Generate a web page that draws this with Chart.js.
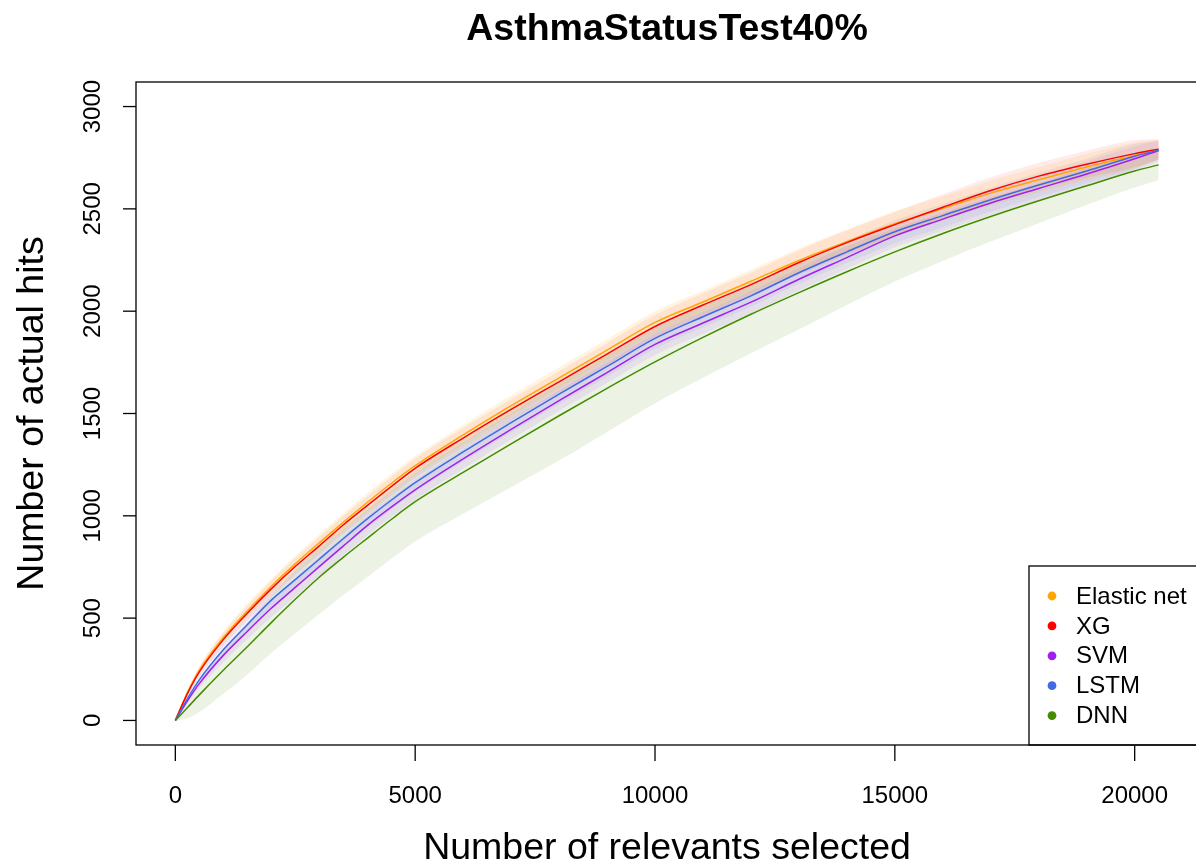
<!DOCTYPE html>
<html>
<head>
<meta charset="utf-8">
<title>AsthmaStatusTest40%</title>
<script src="https://cdn.jsdelivr.net/npm/chart.js@4"></script>
<style>
  html, body { margin: 0; padding: 0; background: #fff; overflow: hidden; }
  #wrap { width: 1196px; height: 868px; overflow: hidden; }
</style>
</head>
<body>
<div id="wrap"><canvas id="chart" width="1200" height="868"></canvas></div>
<script>
// ====== data ======
const selected = [0, 250, 500, 1000, 1500, 2000, 2500, 3000, 3500, 4000, 4500, 5000, 6000, 7000, 8000, 9000, 10000,
  11000, 12000, 13000, 14000, 15000, 16000, 17000, 18000, 19000, 20000, 20500];

const elasticMean = [0, 135, 245, 405, 535, 655, 765, 868, 968, 1065, 1158, 1245, 1395, 1538, 1674, 1810, 1945, 2045, 2146, 2248, 2340, 2428, 2502, 2577, 2642, 2705, 2761, 2790];
const elasticHigh = [0, 150, 267, 435, 570, 693, 805, 910, 1013, 1110, 1205, 1292, 1444, 1588, 1726, 1863, 2000, 2101, 2203, 2306, 2399, 2488, 2563, 2639, 2705, 2769, 2826, 2838];
const elasticLow  = [0, 120, 225, 378, 502, 619, 727, 828, 925, 1022, 1112, 1200, 1348, 1490, 1624, 1759, 1892, 1990, 2090, 2191, 2282, 2370, 2442, 2516, 2580, 2642, 2697, 2742];

const xgMean = [0, 130, 237, 395, 524, 643, 752, 853, 955, 1050, 1143, 1232, 1380, 1520, 1655, 1790, 1925, 2030, 2130, 2238, 2335, 2423, 2508, 2590, 2660, 2718, 2770, 2792];
const xgHigh = [0, 145, 260, 428, 561, 683, 794, 897, 1000, 1096, 1190, 1280, 1430, 1571, 1708, 1845, 1982, 2088, 2189, 2298, 2396, 2485, 2571, 2654, 2725, 2784, 2837, 2842];
const xgLow  = [0, 115, 215, 363, 488, 604, 711, 810, 912, 1005, 1097, 1185, 1331, 1470, 1603, 1736, 1869, 1973, 2072, 2179, 2275, 2362, 2446, 2527, 2596, 2653, 2704, 2740];

const svmMean = [0, 95, 180, 318, 435, 548, 650, 752, 852, 952, 1042, 1127, 1278, 1422, 1563, 1700, 1838, 1942, 2044, 2156, 2262, 2368, 2450, 2529, 2600, 2670, 2745, 2785];
const svmHigh = [0, 108, 202, 352, 473, 591, 695, 799, 899, 1000, 1090, 1175, 1327, 1471, 1613, 1751, 1890, 1995, 2098, 2211, 2318, 2424, 2508, 2588, 2660, 2731, 2805, 2835];
const svmLow  = [0, 82, 158, 284, 397, 505, 605, 705, 806, 904, 994, 1079, 1229, 1373, 1513, 1649, 1786, 1889, 1990, 2101, 2206, 2312, 2392, 2470, 2540, 2609, 2685, 2730];

const lstmMean = [0, 105, 198, 345, 468, 588, 688, 788, 888, 985, 1076, 1162, 1312, 1455, 1595, 1730, 1867, 1973, 2075, 2188, 2290, 2388, 2467, 2545, 2617, 2685, 2757, 2787];
const lstmHigh = [0, 117, 218, 377, 504, 628, 730, 831, 932, 1030, 1121, 1208, 1359, 1503, 1644, 1780, 1918, 2025, 2128, 2242, 2345, 2444, 2524, 2603, 2676, 2745, 2818, 2832];
const lstmLow  = [0, 93, 178, 313, 432, 548, 646, 745, 845, 940, 1030, 1116, 1265, 1407, 1546, 1680, 1816, 1921, 2022, 2134, 2235, 2332, 2410, 2487, 2558, 2625, 2696, 2742];

const dnnMean = [0, 62, 125, 245, 360, 478, 592, 700, 797, 890, 982, 1069, 1212, 1352, 1489, 1623, 1752, 1872, 1985, 2091, 2193, 2290, 2380, 2463, 2540, 2613, 2685, 2715];
const dnnHigh = [0, 100, 190, 340, 480, 610, 735, 850, 945, 1035, 1130, 1220, 1380, 1530, 1665, 1800, 1920, 2035, 2140, 2235, 2320, 2405, 2480, 2555, 2625, 2700, 2760, 2780];
const dnnLow  = [0, 10, 40, 130, 225, 330, 425, 520, 612, 700, 790, 875, 1010, 1140, 1270, 1410, 1550, 1675, 1795, 1910, 2030, 2145, 2245, 2340, 2430, 2520, 2605, 2640];

const methods = ["Elastic net", "XG", "SVM", "LSTM", "DNN"];
const lineColors = ["#FFA500", "#FF0000", "#A020F0", "#4169E1", "#458B00"];
const bandColors = ["rgba(255,165,0,0.12)", "rgba(255,0,0,0.08)", "rgba(160,32,240,0.09)",
  "rgba(65,105,225,0.09)", "rgba(69,139,0,0.10)"];

const xTicks = [0, 5000, 10000, 15000, 20000];
const yTicks = [0, 500, 1000, 1500, 2000, 2500, 3000];

const titleText = "AsthmaStatusTest40%";
const xTitle = "Number of relevants selected";
const yTitle = "Number of actual hits";

const series = [
  { mean: elasticMean, high: elasticHigh, low: elasticLow },
  { mean: xgMean, high: xgHigh, low: xgLow },
  { mean: svmMean, high: svmHigh, low: svmLow },
  { mean: lstmMean, high: lstmHigh, low: lstmLow },
  { mean: dnnMean, high: dnnHigh, low: dnnLow }
];

const pts = arr => selected.map((x, i) => ({ x, y: arr[i] }));

// ====== datasets: bands first (upper fills down to lower), then the lines ======
const datasets = [];
series.forEach((s, i) => {
  datasets.push({
    label: methods[i] + " upper", data: pts(s.high), order: 10,
    borderWidth: 0, pointRadius: 0, fill: 2 * i + 1,
    backgroundColor: bandColors[i], cubicInterpolationMode: "monotone"
  });
  datasets.push({
    label: methods[i] + " lower", data: pts(s.low), order: 10,
    borderWidth: 0, pointRadius: 0, fill: false, cubicInterpolationMode: "monotone"
  });
});
series.forEach((s, i) => {
  datasets.push({
    label: methods[i], data: pts(s.mean), order: 5 - i,
    borderColor: lineColors[i], borderWidth: 1.5, pointRadius: 0, fill: false,
    cubicInterpolationMode: "monotone"
  });
});

const FONT = "'Liberation Sans', Arial, sans-serif";

// ====== frame, axes, titles and legend ======
const framePlugin = {
  id: "frame",
  afterDraw(chart) {
    const { ctx, chartArea: a, scales: { x, y } } = chart;
    ctx.save();
    ctx.strokeStyle = "#000";
    ctx.fillStyle = "#000";
    ctx.lineWidth = 1.3;
    ctx.strokeRect(a.left, a.top, a.right - a.left, a.bottom - a.top);

    const seg = (x1, y1, x2, y2) => { ctx.beginPath(); ctx.moveTo(x1, y1); ctx.lineTo(x2, y2); ctx.stroke(); };

    ctx.font = "24px " + FONT;
    ctx.textAlign = "center";
    ctx.textBaseline = "middle";
    xTicks.forEach(v => {
      const px = x.getPixelForValue(v);
      seg(px, a.bottom, px, a.bottom + 16);
      ctx.fillText(String(v), px, 796);
    });
    yTicks.forEach(v => {
      const py = y.getPixelForValue(v);
      seg(a.left - 13, py, a.left, py);
      ctx.save();
      ctx.translate(93, py);
      ctx.rotate(-Math.PI / 2);
      ctx.fillText(String(v), 0, 0);
      ctx.restore();
    });

    // axis titles
    ctx.font = "37.5px " + FONT;
    ctx.textBaseline = "alphabetic";
    ctx.fillText(xTitle, (a.left + a.right) / 2, 859);
    ctx.save();
    ctx.translate(43, (a.top + a.bottom) / 2);
    ctx.rotate(-Math.PI / 2);
    ctx.fillText(yTitle, 0, 0);
    ctx.restore();

    // main title
    ctx.font = "bold 37.5px " + FONT;
    ctx.fillText(titleText, (a.left + a.right) / 2, 40);

    // legend
    ctx.lineWidth = 1.3;
    ctx.strokeRect(1029, 566, 220, a.bottom - 566);
    ctx.font = "24px " + FONT;
    ctx.textAlign = "left";
    ctx.textBaseline = "middle";
    methods.forEach((m, i) => {
      const cy = 596 + i * 29.9;
      ctx.fillStyle = lineColors[i];
      ctx.beginPath();
      ctx.arc(1052, cy, 4.4, 0, Math.PI * 2);
      ctx.fill();
      ctx.fillStyle = "#000";
      ctx.fillText(m, 1076, cy + 1);
    });
    ctx.restore();
  }
};

const chart = new Chart(document.getElementById("chart"), {
  type: "line",
  data: { datasets },
  options: {
    responsive: false,
    animation: false,
    devicePixelRatio: 1,
    events: [],
    layout: { padding: { left: 136, top: 82, right: 2, bottom: 123 } },
    scales: {
      x: { type: "linear", min: -820, max: 21320, display: false },
      y: { type: "linear", min: -120, max: 3120, display: false }
    },
    plugins: { legend: { display: false }, tooltip: { enabled: false }, title: { display: false } }
  },
  plugins: [framePlugin]
});
</script>
</body>
</html>
